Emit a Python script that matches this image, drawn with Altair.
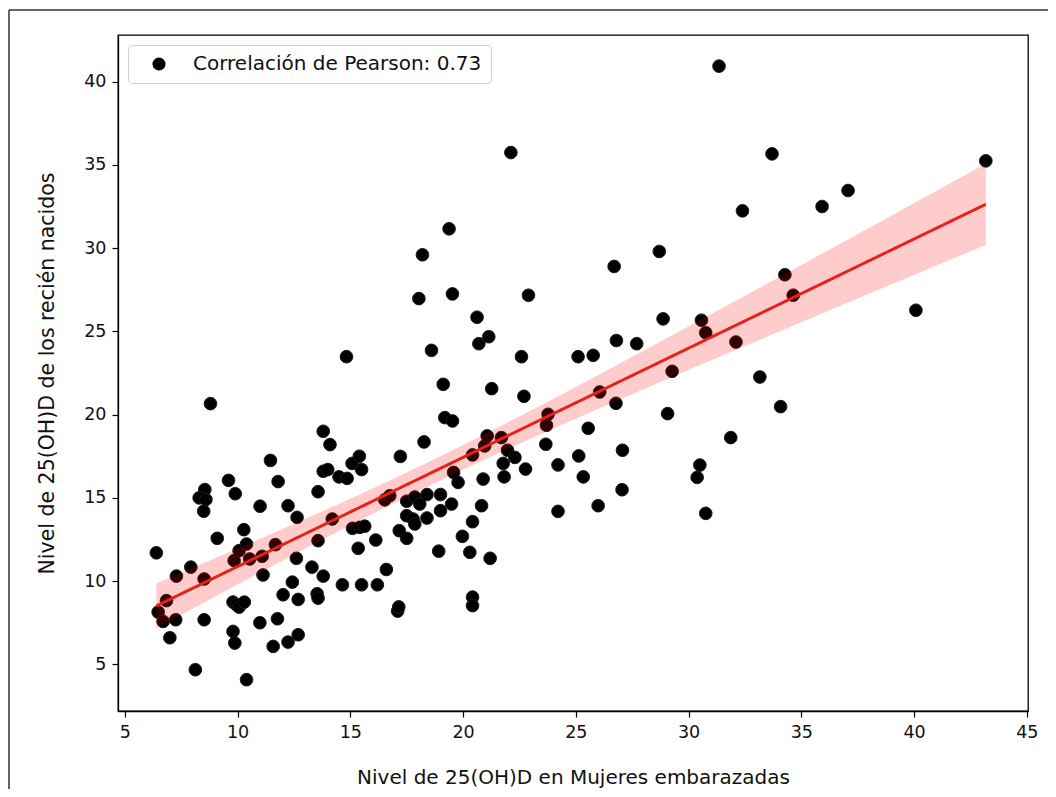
import altair as alt
import pandas as pd
import numpy as np

# ---- data ----
x_vals = [
    6.40, 6.48, 6.85, 6.70, 7.26, 7.00, 7.29, 7.93, 8.13, 8.80,
    8.55, 8.30, 8.60, 8.50, 8.52, 8.52,
    9.10, 9.60, 9.90, 9.85, 10.07, 10.40, 10.54, 10.28, 9.80, 9.95,
    10.07, 10.30, 9.80, 9.88, 10.40,
    11.00, 11.09, 11.13, 10.99, 11.46, 11.58, 11.77, 11.80, 12.24, 12.69,
    12.02, 12.69, 12.43, 12.24, 12.64, 12.61, 11.68,
    13.57, 13.80, 14.10, 13.80, 14.00, 14.50, 14.86, 14.83, 13.57, 13.30,
    13.80, 13.53, 13.57, 14.20, 14.65,
    15.08, 15.40, 15.50, 15.10, 15.42, 15.35, 15.64, 15.50, 16.13, 16.20,
    16.60, 16.53, 16.75, 17.17, 17.50, 17.10, 17.15, 17.22,
    17.50, 17.86, 18.08, 18.40, 19.00, 19.49, 19.00, 18.40, 17.50, 17.78,
    17.86, 18.04, 18.20, 18.27, 18.60, 18.92,
    19.12, 19.19, 19.53, 19.38, 19.53, 19.58, 19.78, 19.97, 20.30, 20.42,
    20.82, 20.42, 20.62, 20.70, 20.89, 20.96, 20.42, 20.42,
    21.07, 21.14, 21.27, 21.20, 21.70, 21.78, 21.82, 21.97, 22.30, 22.12,
    22.59, 22.70, 22.77, 22.90,
    23.77, 23.70, 23.67, 24.21, 24.21, 25.10, 25.13, 25.33, 25.55, 25.77,
    25.99, 26.06,
    26.70, 26.80, 26.78, 27.07, 27.05, 27.70, 28.70, 28.87, 29.07, 29.27,
    30.38, 30.50, 30.57, 30.76, 30.76, 31.35, 31.87, 32.10, 32.39, 33.16,
    33.70, 34.08, 34.27, 34.64, 35.92, 37.07, 40.08, 43.18,
]
y_vals = [
    11.70, 8.14, 8.83, 7.58, 7.68, 6.60, 10.30, 10.84, 4.68, 20.66,
    15.50, 15.00, 14.90, 14.20, 10.13, 7.68,
    12.57, 16.05, 15.25, 11.23, 11.83, 12.23, 11.33, 13.09, 8.74, 8.58,
    8.44, 8.74, 6.98, 6.28, 4.08,
    14.50, 11.49, 10.37, 7.50, 17.25, 6.08, 7.74, 15.98, 6.34, 6.78,
    9.18, 8.90, 9.94, 14.53, 13.83, 11.37, 12.19,
    15.37, 19.00, 18.20, 16.60, 16.70, 16.26, 16.17, 23.48, 12.43, 10.84,
    10.30, 9.24, 8.98, 13.73, 9.78,
    17.07, 17.50, 16.70, 13.17, 13.23, 11.97, 13.30, 9.78, 12.47, 9.78,
    10.70, 14.88, 15.13, 13.03, 12.57, 8.20, 8.45, 17.49,
    14.80, 15.05, 14.63, 15.20, 15.20, 14.63, 14.23, 13.79, 13.93, 13.73,
    13.43, 26.97, 29.60, 18.36, 23.86, 11.80,
    21.82, 19.82, 19.62, 31.16, 27.25, 16.53, 15.93, 12.69, 11.73, 13.57,
    14.53, 17.58, 25.85, 24.26, 16.13, 18.12, 9.04, 8.53,
    18.72, 24.68, 21.56, 11.37, 18.62, 17.07, 16.26, 17.86, 17.43, 35.74,
    23.48, 21.10, 16.73, 27.17,
    20.02, 19.36, 18.22, 16.98, 14.19, 23.48, 17.52, 16.26, 19.18, 23.56,
    14.53, 21.36,
    28.90, 24.45, 20.68, 17.86, 15.49, 24.26, 29.80, 25.75, 20.06, 22.60,
    16.23, 16.97, 25.67, 24.92, 14.07, 40.93, 18.62, 24.36, 32.24, 22.26,
    35.66, 20.48, 28.40, 27.17, 32.50, 33.46, 26.27, 35.24,
]
legend_label = "Correlación de Pearson: 0.73"
x_title = "Nivel de 25(OH)D en Mujeres embarazadas"
y_title = "Nivel de 25(OH)D de los recién nacidos"
x_ticks = [5, 10, 15, 20, 25, 30, 35, 40, 45]
y_ticks = [5, 10, 15, 20, 25, 30, 35, 40]

n_pts = min(len(x_vals), len(y_vals))
df = pd.DataFrame({"x": x_vals[:n_pts], "y": y_vals[:n_pts], "serie": legend_label})

# ---- linear fit + 95% confidence band ----
xa = np.array(x_vals[:n_pts], dtype=float)
ya = np.array(y_vals[:n_pts], dtype=float)
slope, intercept = np.polyfit(xa, ya, 1)
grid = np.linspace(xa.min(), xa.max(), 120)
pred = intercept + slope * grid
resid = ya - (intercept + slope * xa)
s = np.sqrt(np.sum(resid ** 2) / (n_pts - 2))
sxx = np.sum((xa - xa.mean()) ** 2)
half = 1.97 * s * np.sqrt(1.0 / n_pts + (grid - xa.mean()) ** 2 / sxx)
fit = pd.DataFrame({"x": grid, "y": pred, "lo": pred - half, "hi": pred + half})

FONT = "DejaVu Sans"
xs = alt.Scale(domain=[4.7, 45.05], nice=False, zero=False)
ys = alt.Scale(domain=[2.2, 42.8], nice=False, zero=False)

x_axis = alt.Axis(values=x_ticks, title=x_title, grid=False, format="d",
                  labelFont=FONT, labelFontSize=17.5, labelColor="#111",
                  titleFont=FONT, titleFontSize=20, titleFontWeight="normal",
                  titleColor="#111", titlePadding=27, labelPadding=6,
                  tickSize=6, tickColor="black", domainColor="black",
                  domainWidth=1.3, tickWidth=1.2)
y_axis = alt.Axis(values=y_ticks, title=y_title, grid=False, format="d",
                  labelFont=FONT, labelFontSize=17.5, labelColor="#111",
                  titleFont=FONT, titleFontSize=20.5, titleFontWeight="normal",
                  titleColor="#111", titlePadding=26, labelPadding=6,
                  tickSize=6, tickColor="black", domainColor="black",
                  domainWidth=1.3, tickWidth=1.2)

points = alt.Chart(df).mark_circle(size=160, opacity=1, stroke="#1a1a1a",
                                   strokeWidth=1).encode(
    x=alt.X("x:Q", scale=xs, axis=x_axis),
    y=alt.Y("y:Q", scale=ys, axis=y_axis),
    color=alt.Color("serie:N", scale=alt.Scale(range=["black"]),
                    legend=alt.Legend(title=None, orient="none", legendX=10, legendY=10,
                                      padding=9, strokeColor="#d0d0d0", cornerRadius=4,
                                      fillColor="white", symbolType="circle",
                                      symbolSize=170, symbolStrokeWidth=0,
                                      symbolOffset=12, labelOffset=24,
                                      labelFont=FONT, labelFontSize=20,
                                      labelColor="#111", labelLimit=500)),
)

band = alt.Chart(fit).mark_area(color="red", opacity=0.2).encode(
    x=alt.X("x:Q", scale=xs), y=alt.Y("lo:Q", scale=ys), y2="hi:Q")
line = alt.Chart(fit).mark_line(color="#e8201a", strokeWidth=3).encode(
    x=alt.X("x:Q", scale=xs), y=alt.Y("y:Q", scale=ys))

frame_df = pd.DataFrame({"k": [0]})
top_border = alt.Chart(frame_df).mark_rule(color="#333", strokeWidth=1.5).encode(
    x=alt.value(-109), x2=alt.value(1000), y=alt.value(-25))
left_border = alt.Chart(frame_df).mark_rule(color="#333", strokeWidth=1.5).encode(
    x=alt.value(-109), y=alt.value(-25), y2=alt.value(800))

chart = alt.layer(points, band, line, top_border, left_border).properties(
    width=910, height=676,
    autosize=alt.AutoSizeParams(type="none"),
    padding={"left": 110, "top": 27, "right": 20, "bottom": 78},
).configure_view(stroke="black", strokeWidth=1.3)

chart.save("out.html", embed_options={"renderer": "svg", "actions": False})
